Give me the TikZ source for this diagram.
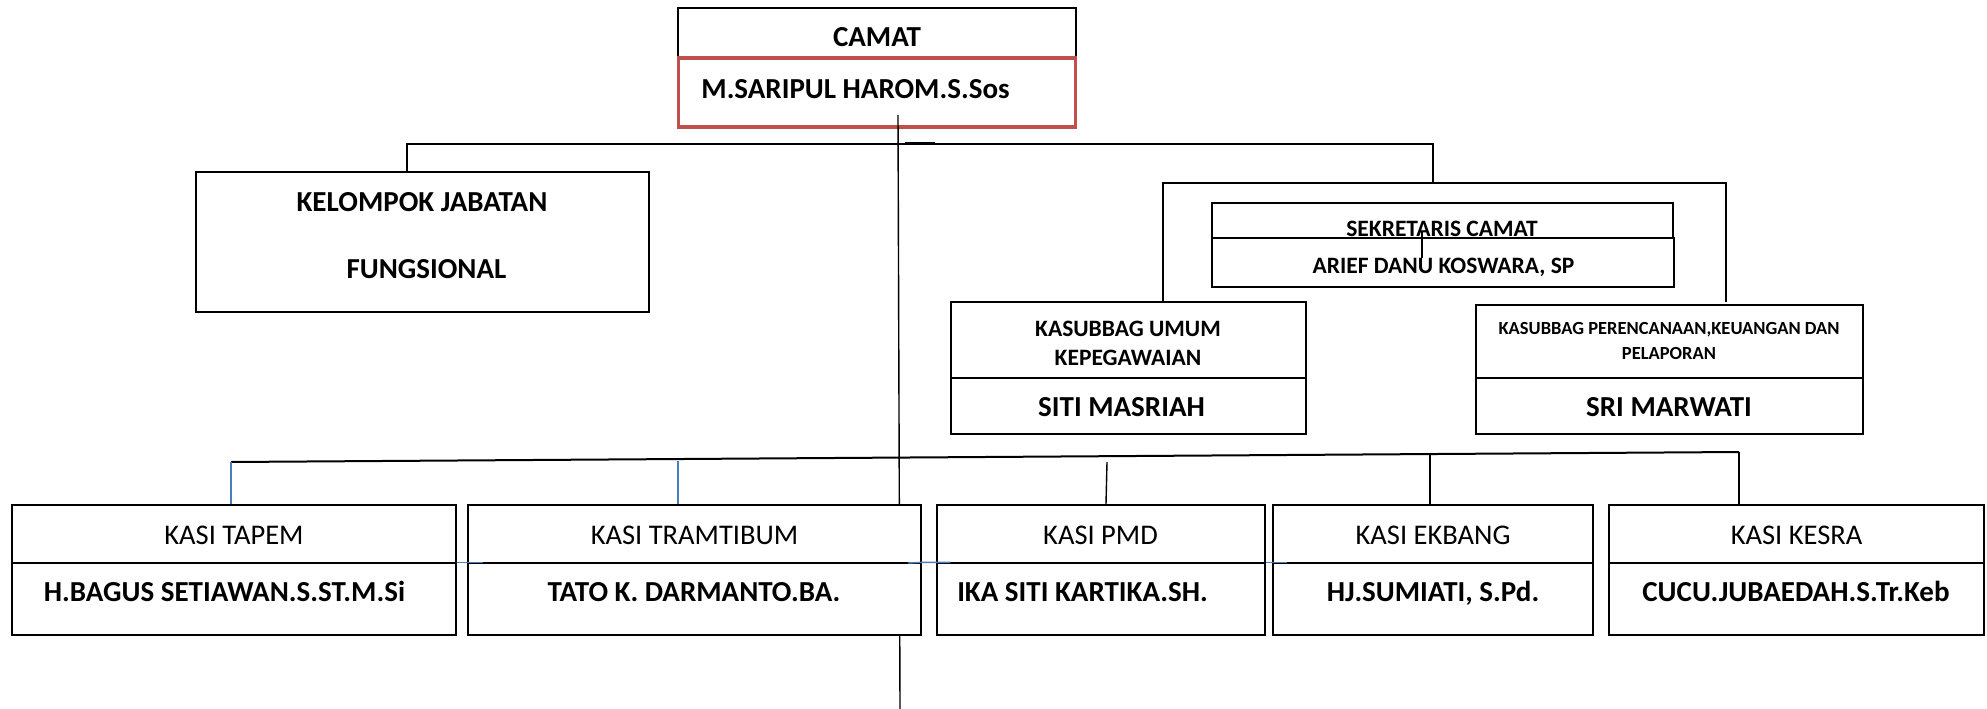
\documentclass[tikz,border=0pt]{standalone}
\usepackage{fontspec}
\setmainfont{Carlito}
\definecolor{redc}{RGB}{192,80,77}
\definecolor{bluec}{RGB}{74,126,187}
\begin{document}
\begin{tikzpicture}[x=1bp,y=-1bp,
  cell/.style={draw=black, fill=white, line width=1.2bp, inner sep=0pt},
  redcell/.style={draw=redc, fill=white, line width=3.2bp, inner sep=0pt},
  conn/.style={draw=black, line width=1.4bp},
  bconn/.style={draw=bluec, line width=1.4bp},
  big/.style={font=\fontsize{29bp}{30bp}\selectfont\bfseries, text height=18.4bp, text depth=0pt, inner sep=0pt},
  kasi/.style={font=\fontsize{28.5bp}{30bp}\selectfont, text height=18bp, text depth=0pt, inner sep=0pt},
  mid/.style={font=\fontsize{23.5bp}{25bp}\selectfont\bfseries, text height=15bp, text depth=0pt, inner sep=0pt},
  sml/.style={font=\fontsize{18.5bp}{19bp}\selectfont\bfseries, text height=11.8bp, text depth=0pt, inner sep=0pt}
]
\useasboundingbox[fill=white] (0,0) rectangle (1987,709);

% ---- top: Camat
\node[cell, minimum width=398bp, minimum height=49bp] (camatT) at (877,32.5) {};
\node[redcell, minimum width=397bp, minimum height=69bp] (camatN) at (877,92.5) {};
\node[big] (camatTt) at (877,37.5) {CAMAT};
\node[big] (camatNt) at (855.5,89) {M.SARIPUL HAROM.S.Sos};

% ---- Kelompok jabatan fungsional
\node[cell, minimum width=453bp, minimum height=140bp] (kel) at (422.5,242) {};
\node[big] (kelt1) at (422,202) {KELOMPOK JABATAN};
\node[big] (kelt2) at (426.5,269) {FUNGSIONAL};

% ---- Sekretaris camat
\node[cell, minimum width=461bp, minimum height=35bp] (secT) at (1442.5,220.5) {};
\node[cell, minimum width=462bp, minimum height=49bp] (secN) at (1443,262.5) {};
\node[mid] (secTt) at (1442,228.5) {SEKRETARIS CAMAT};
\node[mid] (secNt) at (1443.5,265.5) {ARIEF DANU KOSWARA, SP};

% ---- Kasubbag umum
\node[cell, minimum width=355bp, minimum height=76bp] (umT) at (1128.5,340) {};
\node[cell, minimum width=355bp, minimum height=56bp] (umN) at (1128.5,406) {};
\node[mid] (umt1) at (1128,329) {KASUBBAG UMUM};
\node[mid] (umt2) at (1128,358) {KEPEGAWAIAN};
\node[big] (umNt) at (1121.5,407) {SITI MASRIAH};

% ---- Kasubbag perencanaan
\node[cell, minimum width=387bp, minimum height=73bp] (prT) at (1669.5,341.5) {};
\node[cell, minimum width=387bp, minimum height=56bp] (prN) at (1669.5,406) {};
\node[sml] (prt1) at (1669,328.5) {KASUBBAG PERENCANAAN,KEUANGAN DAN};
\node[sml] (prt2) at (1669,354) {PELAPORAN};
\node[big] (prNt) at (1669,407) {SRI MARWATI};

% ---- connectors (upper)
\coordinate (mTop) at (898,115);
\coordinate (mBot) at (900,709);
\coordinate (hL) at (407,144);
\coordinate (hR) at (1433,144);
\coordinate (sL) at (1163,183);
\coordinate (sR) at (1726,183);
\coordinate (sM) at (1433,183);
\draw[conn] (mTop) -- (mBot);
\draw[conn] (kel.north -| hL) -- (hL) -- (hR) -- (sM);
\draw[conn, line width=2.4bp] (905,143) -- (935,143);
\draw[conn] (umT.north -| sL) -- (sL) -- (sR) -- (1726,302);
\coordinate (secA) at (1422,232);
\coordinate (secB) at (1422,258);
\draw[conn, line width=1.2bp] (secA) -- (secB);

% ---- lower horizontal and drops
\coordinate (L1) at (231,462);
\coordinate (L2) at (1739,452);
\coordinate (dTr) at (678,461);
\coordinate (dPm) at (1107,462);
\coordinate (dEk) at (1430,454);
\draw[conn, line width=2bp] (L1) -- (L2);

% ---- lower boxes
\node[cell, minimum width=444bp, minimum height=58bp] (tapT) at (234,534) {};
\node[cell, minimum width=444bp, minimum height=72bp] (tapN) at (234,599) {};
\node[cell, minimum width=453bp, minimum height=58bp] (traT) at (694.5,534) {};
\node[cell, minimum width=453bp, minimum height=72bp] (traN) at (694.5,599) {};
\node[cell, minimum width=328bp, minimum height=58bp] (pmdT) at (1101,534) {};
\node[cell, minimum width=328bp, minimum height=72bp] (pmdN) at (1101,599) {};
\node[cell, minimum width=320bp, minimum height=58bp] (ekbT) at (1433,534) {};
\node[cell, minimum width=320bp, minimum height=72bp] (ekbN) at (1433,599) {};
\node[cell, minimum width=375bp, minimum height=58bp] (kesT) at (1796.5,534) {};
\node[cell, minimum width=375bp, minimum height=72bp] (kesN) at (1796.5,599) {};

\draw[bconn] (L1) -- (tapT.north -| L1);
\draw[bconn] (dTr) -- (traT.north -| dTr);
\draw[conn] (dPm) -- (1106,504);
\draw[conn] (dEk) -- (ekbT.north -| dEk);
\draw[conn] (L2) -- (kesT.north -| L2);

\node[kasi] (tapTt) at (234,535) {KASI TAPEM};
\node[kasi] (traTt) at (694.5,535) {KASI TRAMTIBUM};
\node[kasi] (pmdTt) at (1100.5,535) {KASI PMD};
\node[kasi] (ekbTt) at (1433,535) {KASI EKBANG};
\node[kasi] (kesTt) at (1796.5,535) {KASI KESRA};
\node[big] (tapNt) at (224.5,592) {H.BAGUS SETIAWAN.S.ST.M.Si};
\node[big] (traNt) at (694,592) {TATO K. DARMANTO.BA.};
\node[big] (pmdNt) at (1082.5,592) {IKA SITI KARTIKA.SH.};
\node[big] (ekbNt) at (1433,592) {HJ.SUMIATI, S.Pd.};
\node[big] (kesNt) at (1796,592) {CUCU.JUBAEDAH.S.Tr.Keb};

% ---- blue stubs on the middle lines
\draw[bconn] (tapN.north east) -- ++(26,0);
\draw[bconn] (908,563) -- (traN.north east) -- (pmdN.north west) -- ++(14,0);
\draw[bconn] (pmdN.north east) -- (ekbN.north west) -- ++(15,0);
\end{tikzpicture}
\end{document}
